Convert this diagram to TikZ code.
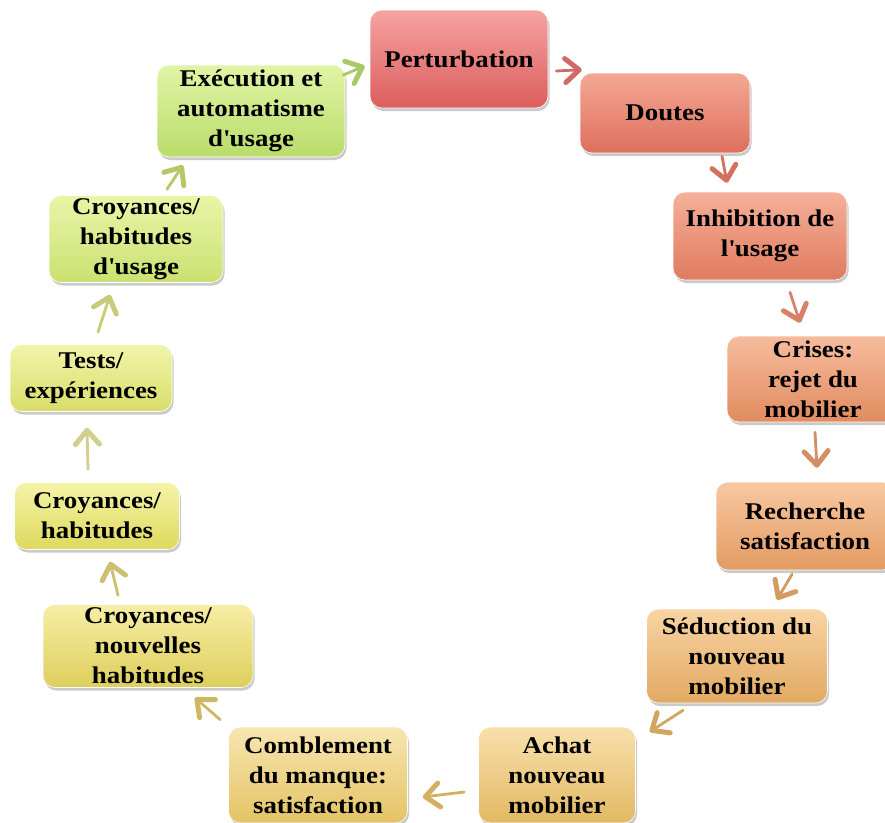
\documentclass[tikz,border=0pt]{standalone}
\usepackage{fontspec}
\setmainfont{Liberation Serif}[FakeStretch=1.12]
\usetikzlibrary{arrows.meta,calc,shadows}

% couleurs des etapes (haut / bas)
\definecolor{pertH}{HTML}{F5A4A2}\definecolor{pertB}{HTML}{DC5D5D}
\definecolor{doutH}{HTML}{F4A894}\definecolor{doutB}{HTML}{DE6F5D}
\definecolor{inhiH}{HTML}{F5B09A}\definecolor{inhiB}{HTML}{E07B5F}
\definecolor{crisH}{HTML}{F6BC9E}\definecolor{crisB}{HTML}{E18B5F}
\definecolor{rechH}{HTML}{F8C8A2}\definecolor{rechB}{HTML}{E39B62}
\definecolor{seduH}{HTML}{F8D4A4}\definecolor{seduB}{HTML}{E2A962}
\definecolor{achaH}{HTML}{F8E0AC}\definecolor{achaB}{HTML}{E2B963}
\definecolor{combH}{HTML}{F8E6B0}\definecolor{combB}{HTML}{E3C365}
\definecolor{croNH}{HTML}{F7EEA6}\definecolor{croNB}{HTML}{DECE5C}
\definecolor{croHH}{HTML}{F5F4A8}\definecolor{croHB}{HTML}{DED95E}
\definecolor{testH}{HTML}{F1F5AA}\definecolor{testB}{HTML}{D9DD6A}
\definecolor{croUH}{HTML}{E9F5A8}\definecolor{croUB}{HTML}{CAE171}
\definecolor{execH}{HTML}{E1F4A6}\definecolor{execB}{HTML}{BADC6A}
% couleurs des fleches
\definecolor{fA}{HTML}{A9C86A}\definecolor{fB}{HTML}{D06A68}
\definecolor{fC}{HTML}{D4705C}\definecolor{fD}{HTML}{D88068}
\definecolor{fE}{HTML}{D28E64}\definecolor{fF}{HTML}{D29C60}
\definecolor{fG}{HTML}{D2A560}\definecolor{fH}{HTML}{D2B062}
\definecolor{fI}{HTML}{CDB862}\definecolor{fJ}{HTML}{CCC070}
\definecolor{fK}{HTML}{D0D08C}\definecolor{fL}{HTML}{C8CC78}
\definecolor{fM}{HTML}{B4C868}

\tikzset{
  etape/.style={rounded corners=12pt, draw=white, line width=0.6pt, inner sep=0pt,
    align=center, font=\fontsize{24}{30}\selectfont\bfseries,
    drop shadow={shadow xshift=1.5pt, shadow yshift=-3pt, opacity=0.35, fill=black!60}},
  fleche/.style={line width=2.8pt, line cap=round,
    -{Straight Barb[length=14pt,width=24pt,line width=5pt,round]}},
}

\begin{document}
\begin{tikzpicture}[x=1pt,y=-1pt]
  \useasboundingbox (0,0) rectangle (885,822);
  \clip (0,0) rectangle (885,822);

  % Etapes du cycle
  \node[etape, top color=pertH, bottom color=pertB, minimum width=178pt, minimum height=98pt] (pert) at (459,59) {Perturbation};
  \node[etape, top color=doutH, bottom color=doutB, minimum width=170pt, minimum height=80pt] (dout) at (665,113) {Doutes};
  \node[etape, top color=inhiH, bottom color=inhiB, minimum width=174pt, minimum height=88pt] (inhib) at (760,236) {Inhibition de\\l\textquotesingle usage};
  \node[etape, top color=crisH, bottom color=crisB, minimum width=172pt, minimum height=86pt] (crises) at (813,379) {Crises:\\rejet du\\mobilier};
  \node[etape, top color=rechH, bottom color=rechB, minimum width=178pt, minimum height=88pt] (rech) at (805,526) {Recherche\\satisfaction};
  \node[etape, top color=seduH, bottom color=seduB, minimum width=181pt, minimum height=94pt] (sedu) at (737,656) {Séduction du\\nouveau\\mobilier};
  \node[etape, top color=achaH, bottom color=achaB, minimum width=157pt, minimum height=96pt] (achat) at (557,775) {Achat\\nouveau\\mobilier};
  \node[etape, top color=combH, bottom color=combB, minimum width=179pt, minimum height=96pt] (combl) at (318,775) {Comblement\\du manque:\\satisfaction};
  \node[etape, top color=croNH, bottom color=croNB, minimum width=210pt, minimum height=83pt] (croyN) at (148,646) {Croyances/\\nouvelles\\habitudes};
  \node[etape, top color=croHH, bottom color=croHB, minimum width=165pt, minimum height=67pt] (croyH) at (97,516) {Croyances/\\habitudes};
  \node[etape, top color=testH, bottom color=testB, minimum width=162pt, minimum height=67pt] (tests) at (91,378) {Tests/\\expériences};
  \node[etape, top color=croUH, bottom color=croUB, minimum width=174pt, minimum height=87pt] (croyU) at (136,239) {Croyances/\\habitudes\\d\textquotesingle usage};
  \node[etape, top color=execH, bottom color=execB, minimum width=188pt, minimum height=92pt] (exec) at (251,111) {Exécution et\\automatisme\\d\textquotesingle usage};

  % Fleches
  \draw[fleche, fA] ($(exec.east)+(-2,-36)$) -- ($(pert.west)+(-5,7)$);
  \draw[fleche, fB] ($(pert.east)+(8,12)$) -- ($(dout.north west)+(2,-3)$);
  \draw[fleche, fC] ($(dout.south)+(57,3)$) -- ($(inhib.north)+(-33,-9)$);
  \draw[fleche, fD] ($(inhib.south)+(30,12)$) -- ($(crises.north)+(-13,-13)$);
  \draw[fleche, fE] ($(crises.south)+(2,10)$) -- ($(rech.north)+(12,-14)$);
  \draw[fleche, fF] ($(rech.south)+(-13,4)$) -- ($(sedu.north)+(40,-9)$);
  \draw[fleche, fG] ($(sedu.south)+(-54,7)$) -- ($(achat.north east)+(14,5)$);
  \draw[fleche, fH] ($(achat.west)+(-14,17)$) -- ($(combl.east)+(15,22)$);
  \draw[fleche, fI] ($(combl.north west)+(-8,-7)$) -- ($(croyN.south)+(47,10)$);
  \draw[fleche, fJ] ($(croyN.north)+(-30,-9)$) -- ($(croyH.south)+(13,12)$);
  \draw[fleche, fK] ($(croyH.north)+(-9,-13)$) -- ($(tests.south)+(-4,16)$);
  \draw[fleche, fL] ($(tests.north)+(7,-12)$) -- ($(croyU.south)+(-26,12)$);
  \draw[fleche, fM] ($(croyU.north)+(31,-6)$) -- ($(exec.south)+(-68,8)$);
\end{tikzpicture}
\end{document}
